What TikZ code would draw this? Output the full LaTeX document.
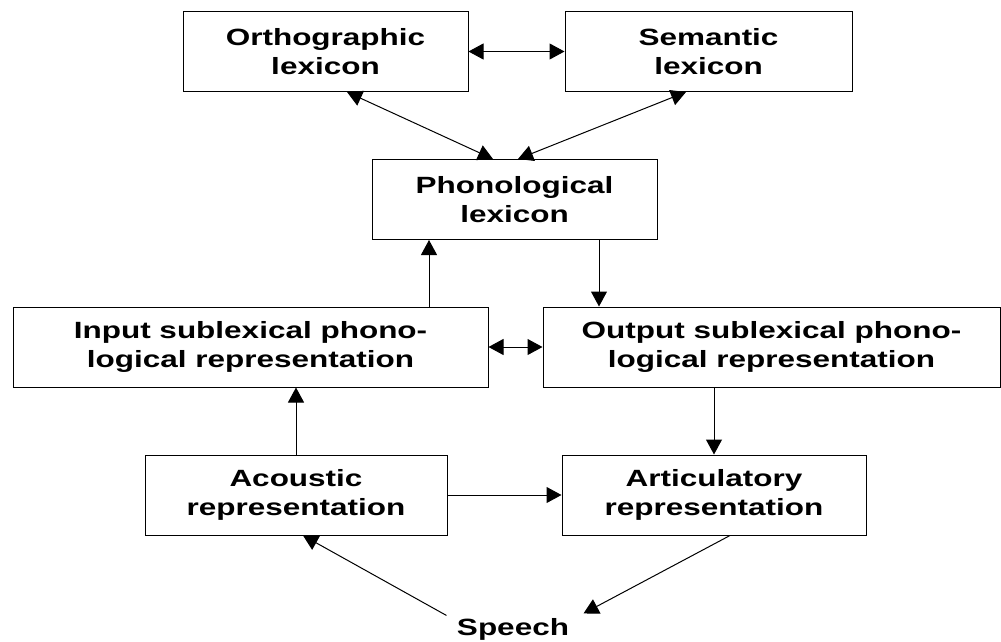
\documentclass[tikz,border=0pt]{standalone}
\usepackage{fontspec}
\usepackage{tikz}
\usetikzlibrary{arrows.meta}
\newfontfamily\lexfont{Liberation Sans}[FakeStretch=1.34]
\tikzstyle{box}=[draw,line width=1pt,inner sep=0pt,minimum height=80pt,align=center,
                 font=\lexfont\bfseries\fontsize{23.5}{28.5}\selectfont]

\begin{document}
\begin{tikzpicture}[x=1pt,y=-1pt,line width=1pt,>={Triangle[length=15pt,width=16pt]}]
              \useasboundingbox (0,0) rectangle (1001,642);
              \foreach \name/\x/\y/\w/\text in {orth/325.5/51.5/285/{Orthographic\\lexicon},
                                                sem/708.5/51.5/287/{Semantic\\lexicon},
                                                phon/514.5/199.5/285/{Phonological\\lexicon},
                                                inp/250.5/347/475/{Input sublexical phono-\\logical representation},
                                                out/771.5/347/457/{Output sublexical phono-\\logical representation},
                                                aco/296/495/302/{Acoustic\\representation},
                                                art/714/495/304/{Articulatory\\representation}}
                \node[box,minimum width=\w pt] (\name) at (\x,\y) {\text};
              \node[font=\lexfont\bfseries\fontsize{23.5}{28.5}\selectfont,inner sep=0pt,anchor=base] (speech) at (513,635) {Speech};
              % lexica
              \draw[<->] (orth.east) -- (sem.west);
              \draw[<->] ([xshift=21.5pt]orth.south) -- ([xshift=-21.5pt]phon.north);
              \draw[<->] ([xshift=-22.5pt]sem.south) -- ([xshift=3.5pt]phon.north);
              \draw[<-] ([xshift=-85.5pt]phon.south) -- ([xshift=178.5pt]inp.north);
              \draw[->] ([xshift=84.5pt]phon.south) -- ([xshift=-172.5pt]out.north);
              % sublexical
              \draw[<->] (inp.east) -- (out.west);
              \draw[->] (aco.north) -- (aco.north |- inp.south);
              \draw[->] (out.south -| art.north) -- (art.north);
              \draw[->] (aco.east) -- (art.west);
              % speech
              \draw[->] ([xshift=-10pt,yshift=2pt]speech.north west) -- ([xshift=7pt]aco.south);
              \draw[->] ([xshift=16pt]art.south) -- ([xshift=14pt,yshift=4pt]speech.north east);
            \end{tikzpicture}
\end{document}
